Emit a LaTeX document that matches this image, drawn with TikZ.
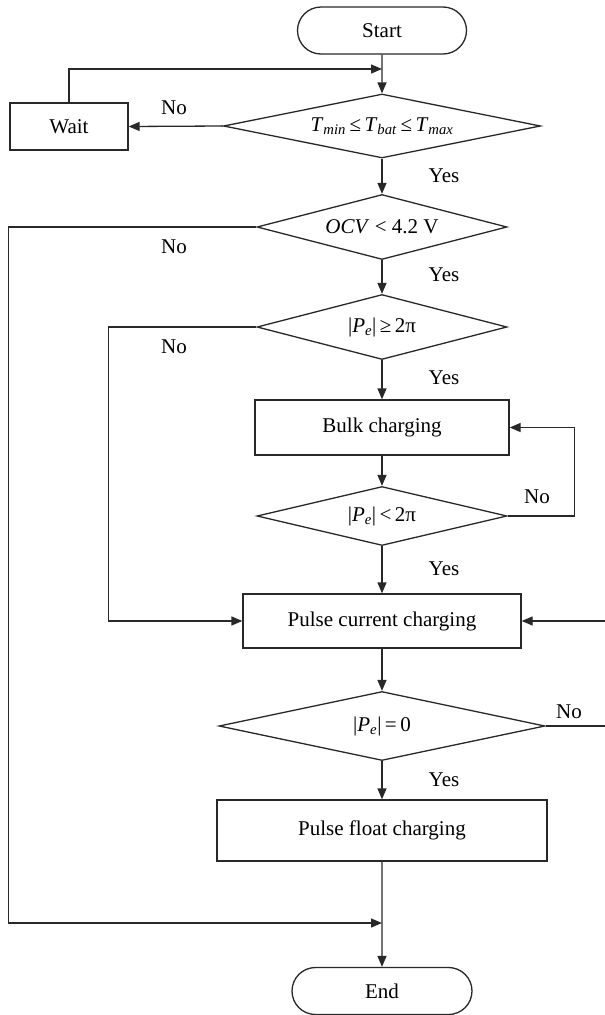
\documentclass[tikz,border=0pt]{standalone}
\usepackage{fontspec}
\setmainfont{Liberation Serif}
\usepackage{tikz}
\usetikzlibrary{arrows.meta}
\usetikzlibrary{shapes.geometric, shapes.misc}
\definecolor{linegray}{RGB}{40,40,40}

\begin{document}
\begin{tikzpicture}[
        x=1pt, y=-1pt,
        font=\fontsize{21}{25}\selectfont,
        flow/.style={-{Triangle[length=11pt,width=9pt]}, line width=1.3pt, draw=linegray},
        terminal/.style={rounded rectangle, line width=1.3pt, draw=linegray, minimum height=47pt, inner sep=0pt},
        process/.style={rectangle, line width=1.3pt, draw=linegray, inner sep=0pt},
        decision/.style n args={3}{diamond, aspect=#3, line width=1.3pt, draw=linegray, inner sep=0pt,
            minimum width=#1pt, minimum height=#2pt}
    ]
        \useasboundingbox (0,0) rectangle (605,1015);

        % Bloques del diagrama
        \node[terminal, minimum width=169pt] (start) at (382,30.5) {Start};
        \node[decision={317}{64}{4.95}] (dtemp) at (382,126)
            {\textit{T}\textsubscript{\textit{min}}\,≤\,\textit{T}\textsubscript{\textit{bat}}\,≤\,\textit{T}\textsubscript{\textit{max}}};
        \node[process, minimum width=118pt, minimum height=47pt] (wait) at (69,126.5) {Wait};
        \node[decision={250}{65}{3.85}] (docv) at (382,227) {\textit{OCV} < 4.2 V};
        \node[decision={250}{65}{3.85}] (dbulk) at (382,327)
            {|\textit{P}\textsubscript{\textit{e}}|\,≥\,2π};
        \node[process, minimum width=254pt, minimum height=55pt] (bulk) at (382,427.5) {Bulk charging};
        \node[decision={250}{59}{4.24}] (dpulse) at (382,516)
            {|\textit{P}\textsubscript{\textit{e}}|\,<\,2π};
        \node[process, minimum width=278pt, minimum height=54pt] (pcur) at (382,621) {Pulse current charging};
        \node[decision={326}{69}{4.72}] (dzero) at (382,726)
            {|\textit{P}\textsubscript{\textit{e}}|\,=\,0};
        \node[process, minimum width=330pt, minimum height=61pt] (pfloat) at (382,830.5) {Pulse float charging};
        \node[terminal, minimum width=180pt] (end) at (382,991) {End};

        % Puntos de union
        \coordinate (jtop) at (382,69);
        \coordinate (jend) at (382,923);

        % Flujo principal
        \draw[flow] (start) -- (dtemp);
        \draw[flow] (dtemp) -- (docv);
        \draw[flow] (docv) -- (dbulk);
        \draw[flow] (dbulk) -- (bulk);
        \draw[flow] (bulk) -- (dpulse);
        \draw[flow] (dpulse) -- (pcur);
        \draw[flow] (pcur) -- (dzero);
        \draw[flow] (dzero) -- (pfloat);
        \draw[flow] (pfloat) -- (end);

        % Ramas "No"
        \draw[flow] (dtemp.west) -- (wait.east);
        \draw[flow] (wait.north) |- (jtop);
        \draw[flow] (docv.west) -- ++(-248,0) |- (jend);
        \draw[flow] (dbulk.west) -- ++(-148,0) |- (pcur.west);
        \draw[flow] (dpulse.east) -- ++(67,0) |- (bulk.east);
        \draw[flow] (dzero.east) -- ++(66,0) |- (pcur.east);

        % Etiquetas
        \node (no1) at (174,108) {No};
        \node (yes1) at (444,176) {Yes};
        \node (no2) at (174,247) {No};
        \node (yes2) at (444,275) {Yes};
        \node (no3) at (174,347) {No};
        \node (yes3) at (444,378) {Yes};
        \node (no4) at (537,497) {No};
        \node (yes4) at (444,569) {Yes};
        \node (no5) at (569,712) {No};
        \node (yes5) at (444,780) {Yes};
    \end{tikzpicture}
\end{document}
